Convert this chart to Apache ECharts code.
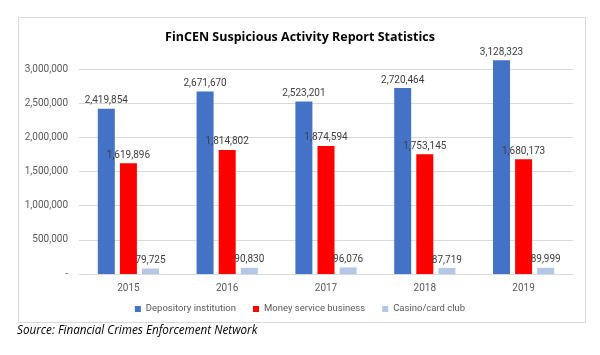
<!DOCTYPE html>
<html>
<head>
<meta charset="utf-8">
<script src="https://cdn.jsdelivr.net/npm/echarts@6/dist/echarts.min.js"></script>
<style>html,body{margin:0;padding:0;background:#fff;}#c{width:600px;height:355px;}</style>
</head>
<body>
<div id="c"></div>
<script>
const categories = ['2015', '2016', '2017', '2018', '2019'];
const depository = [2419854, 2671670, 2523201, 2720464, 3128323];
const moneyService = [1619896, 1814802, 1874594, 1753145, 1680173];
const casino = [79725, 90830, 96076, 87719, 89999];
const seriesNames = ['Depository institution', 'Money service business', 'Casino/card club'];
const yTicks = [0, 500000, 1000000, 1500000, 2000000, 2500000, 3000000];

const fmt = v => v === 0 ? '-' : v.toString().replace(/\B(?=(\d{3})+(?!\d))/g, ',');
const FONT = 'Roboto, "Open Sans", sans-serif';
const FONT2 = '"Open Sans", "Noto Sans", sans-serif';

const chart = echarts.init(document.getElementById('c'), null, {renderer: 'canvas'});
const labelCfg = {
  show: true, position: 'top', distance: 3, color: '#404040',
  fontSize: 10, fontFamily: FONT, formatter: p => fmt(p.value)
};
function mk(name, data, color) {
  return {
    name, type: 'bar', data, barWidth: 17, barGap: '30%', clip: false,
    itemStyle: {color}, label: labelCfg
  };
}
chart.setOption({
  animation: false,
  title: {
    text: 'FinCEN Suspicious Activity Report Statistics',
    left: 'center', top: 26,
    textStyle: {fontSize: 12.5, fontWeight: 'bold', color: '#000', fontFamily: FONT2}
  },
  graphic: [
    {type: 'rect', shape: {x: 18.5, y: 17.5, width: 567, height: 305},
     style: {fill: 'none', stroke: '#d9d9d9', lineWidth: 1}, z: -1},
    {type: 'text', left: 17, top: 325,
     style: {text: 'Source: Financial Crimes Enforcement Network', font: 'italic 11.7px ' + FONT2, fill: '#000'}}
  ],
  legend: {
    data: seriesNames, top: 299, left: 'center', itemWidth: 6, itemHeight: 6,
    itemGap: 17, icon: 'rect',
    textStyle: {fontSize: 9.5, color: '#595959', fontFamily: FONT}
  },
  grid: {left: 79, right: 27, top: 69, bottom: 81, containLabel: false},
  xAxis: {
    type: 'category', data: categories,
    axisLine: {lineStyle: {color: '#d9d9d9', width: 1}},
    axisTick: {show: false},
    axisLabel: {color: '#595959', fontSize: 10, fontFamily: FONT, margin: 9}
  },
  yAxis: {
    type: 'value', min: 0, max: 3000000, interval: 500000,
    axisLine: {show: false}, axisTick: {show: false},
    splitLine: {lineStyle: {color: '#d9d9d9', width: 1}},
    axisLabel: {color: '#595959', fontSize: 10, fontFamily: FONT, margin: 11,
      formatter: v => yTicks.includes(v) ? fmt(v) : ''}
  },
  series: [
    mk(seriesNames[0], depository, '#4472C4'),
    mk(seriesNames[1], moneyService, '#FF0000'),
    mk(seriesNames[2], casino, '#B4C7E7')
  ]
});
</script>
</body>
</html>
